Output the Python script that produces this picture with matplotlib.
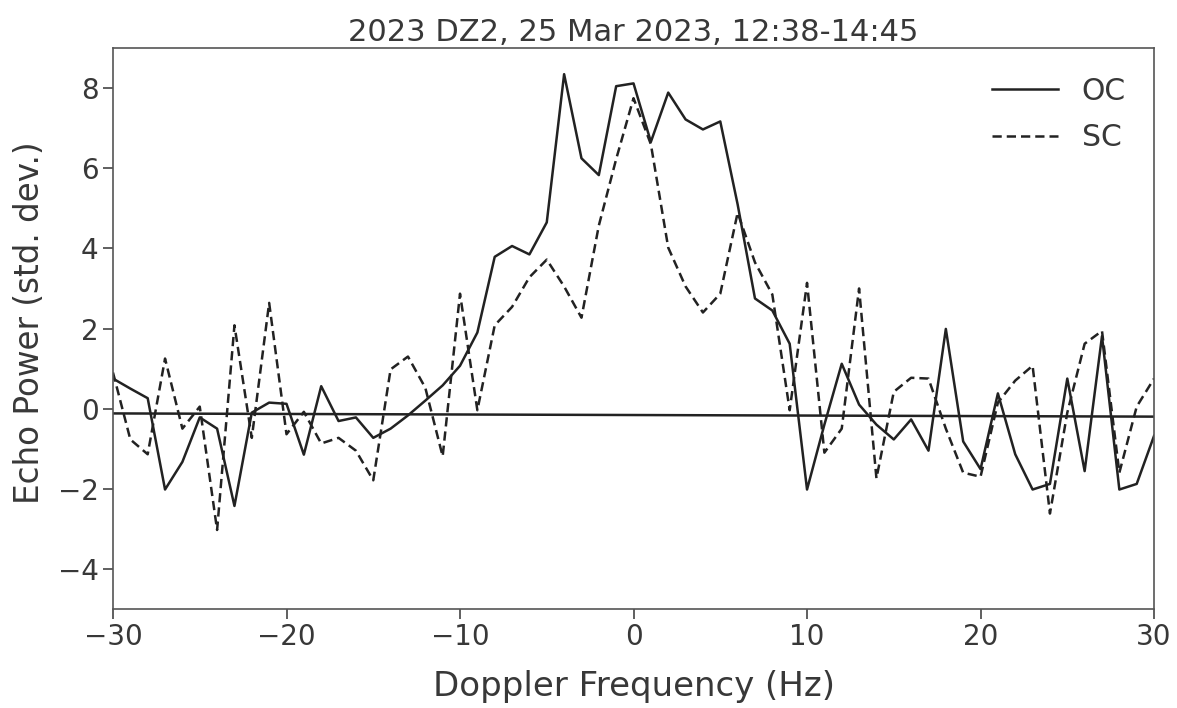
import matplotlib.pyplot as plt
import numpy as np

# Doppler frequency bins (Hz)
freq = np.arange(-30, 31)

# OC echo power (std. dev.)
oc = [0.75, 0.5, 0.26, -2.02, -1.33, -0.22, -0.5, -2.43, -0.1, 0.15,
      0.12, -1.15, 0.56, -0.31, -0.22, -0.73, -0.5, -0.17, 0.2, 0.58,
      1.07, 1.9, 3.79, 4.06, 3.85, 4.65, 8.35, 6.25, 5.83, 8.05,
      8.12, 6.66, 7.89, 7.22, 6.97, 7.17, 5.1, 2.75, 2.45, 1.62,
      -2.02, -0.4, 1.12, 0.1, -0.4, -0.77, -0.27, -1.05, 1.99, -0.82,
      -1.51, 0.38, -1.14, -2.02, -1.88, 0.75, -1.56, 1.81, -2.02, -1.88,
      -0.68]

# SC echo power (std. dev.)
sc = [0.9, -0.77, -1.14, 1.25, -0.5, 0.05, -3.03, 2.08, -0.73, 2.64,
      -0.64, -0.08, -0.87, -0.73, -1.05, -1.79, 0.98, 1.3, 0.52, -1.19,
      2.87, -0.04, 2.08, 2.54, 3.28, 3.72, 3.05, 2.27, 4.57, 6.23,
      7.75, 6.6, 4.02, 3.05, 2.4, 2.87, 4.89, 3.65, 2.85, -0.04,
      3.14, -1.1, -0.5, 3.0, -1.74, 0.42, 0.77, 0.75, -0.5, -1.6,
      -1.7, 0.15, 0.7, 1.07, -2.62, -0.1, 1.62, 1.94, -1.6, 0.05,
      0.75]

# baseline
base_x = [-30, 30]
base_y = [-0.12, -0.2]

txt = '#383838'
plt.rcParams['font.family'] = ['DejaVu Sans']
plt.rcParams['text.color'] = txt
plt.rcParams['axes.labelcolor'] = txt
plt.rcParams['xtick.color'] = '#444444'
plt.rcParams['ytick.color'] = '#444444'
plt.rcParams['xtick.labelcolor'] = txt
plt.rcParams['ytick.labelcolor'] = txt

fig = plt.figure(figsize=(11.77, 7.08), dpi=100)
ax = fig.add_axes([0.096, 0.14, 0.8845, 0.792])

ax.plot(freq, oc, color='#222222', lw=1.8, label='OC')
ax.plot(freq, sc, color='#222222', lw=1.8, ls='--', dashes=(3.7, 2.0), label='SC')
ax.plot(base_x, base_y, color='#222222', lw=1.8)

ax.set_xlim(-30, 30)
ax.set_ylim(-5, 9)
ax.set_yticks([-4, -2, 0, 2, 4, 6, 8])
ax.set_xticks([-30, -20, -10, 0, 10, 20, 30])
ax.tick_params(labelsize=20, length=7, width=1.2)
for s in ax.spines.values():
    s.set_color('#555555')
    s.set_linewidth(1.2)

ax.set_xlabel('Doppler Frequency (Hz)', fontsize=24.5, labelpad=13)
ax.set_ylabel('Echo Power (std. dev.)', fontsize=23.5, labelpad=10)
ax.yaxis.set_label_coords(-0.064, 0.51)
ax.set_title('2023 DZ2, 25 Mar 2023, 12:38-14:45', fontsize=22, pad=5)
ax.legend(loc='upper right', frameon=False, fontsize=21.5, handlelength=2.2,
          borderaxespad=0.55, labelspacing=0.6)

plt.savefig('out.png', dpi=100)
